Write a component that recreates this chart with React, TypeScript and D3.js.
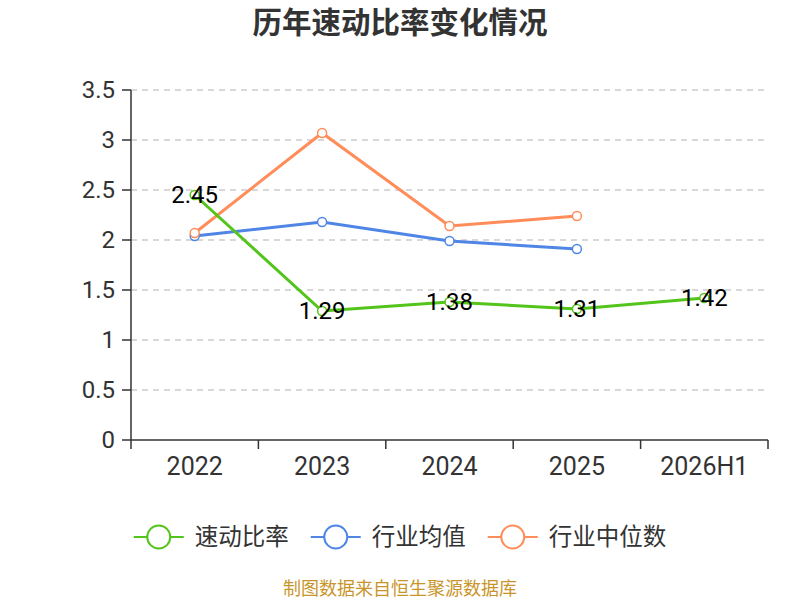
import React from 'react';
import * as d3 from 'd3';

const categories = ['2022', '2023', '2024', '2025', '2026H1'];
const quickRatio = [2.45, 1.29, 1.38, 1.31, 1.42];
const industryMean = [2.04, 2.18, 1.99, 1.91];
const industryMedian = [2.07, 3.07, 2.14, 2.24];
const yTicks = [0, 0.5, 1, 1.5, 2, 2.5, 3, 3.5];

const series = [
  { name: '速动比率', values: quickRatio, color: '#52c41a', labels: true },
  { name: '行业均值', values: industryMean, color: '#4f86e6', labels: false },
  { name: '行业中位数', values: industryMedian, color: '#ff8c59', labels: false },
];

const width = 800;
const height = 600;
const margin = { top: 90, right: 32, bottom: 160, left: 131 };
const font = 'Roboto, "Noto Sans CJK SC", sans-serif';
const cjk = '"Noto Sans CJK SC", sans-serif';

// legend layout: symbol, gap, text, item gap
const legendFont = 23.5;
const symbolW = 50;
const textGap = 11;
const itemGap = 22;

const App = () => {
  const x = d3
    .scaleBand<string>()
    .domain(categories)
    .range([margin.left, width - margin.right]);

  const y = d3
    .scaleLinear()
    .domain([0, 3.5])
    .range([height - margin.bottom, margin.top]);

  const cx = (i: number) => (x(categories[i]) || 0) + x.bandwidth() / 2;

  const line = d3
    .line<number>()
    .x((d, i) => cx(i))
    .y((d) => y(d));

  const bounds = categories.map((c) => x(c) || 0).concat([width - margin.right]);

  const itemWidths = series.map((s) => symbolW + textGap + s.name.length * legendFont);
  const total = d3.sum(itemWidths) + itemGap * (series.length - 1);
  let lx = (width - total) / 2;
  const legendX = itemWidths.map((w) => {
    const p = lx;
    lx += w + itemGap;
    return p;
  });

  return (
    <svg
      width={width}
      height={height}
      style={{ position: 'absolute', left: 0, top: 0, background: '#fff' }}
      fontFamily={font}
    >
      <text x={400} y={33} textAnchor="middle" fontSize={29.5} fontWeight="bold" fill="#333" fontFamily={cjk}>
        历年速动比率变化情况
      </text>

      {/* grid */}
      {yTicks.slice(1).map((t) => (
        <line
          key={t}
          x1={margin.left}
          x2={width - margin.right}
          y1={y(t)}
          y2={y(t)}
          stroke="#ccc"
          strokeWidth={1.5}
          strokeDasharray="6,5"
        />
      ))}

      {/* y axis */}
      <line x1={margin.left} x2={margin.left} y1={margin.top} y2={y(0)} stroke="#333" strokeWidth={1.5} />
      {yTicks.map((t) => (
        <g key={t}>
          <line x1={margin.left - 9} x2={margin.left} y1={y(t)} y2={y(t)} stroke="#333" strokeWidth={1.5} />
          <text x={margin.left - 16} y={y(t)} dy="0.35em" textAnchor="end" fontSize={24} fill="#333">
            {t}
          </text>
        </g>
      ))}

      {/* x axis */}
      <line x1={margin.left} x2={width - margin.right} y1={y(0)} y2={y(0)} stroke="#333" strokeWidth={1.5} />
      {bounds.map((b, i) => (
        <line key={i} x1={b} x2={b} y1={y(0)} y2={y(0) + 9} stroke="#333" strokeWidth={1.5} />
      ))}
      {categories.map((c, i) => (
        <text key={c} x={cx(i)} y={y(0) + 26.5} dy="0.35em" textAnchor="middle" fontSize={25} fill="#333">
          {c}
        </text>
      ))}

      {/* series */}
      {[series[1], series[2], series[0]].map((s) => (
        <g key={s.name}>
          <path d={line(s.values) || ''} fill="none" stroke={s.color} strokeWidth={3} />
          {s.values.map((v, i) => (
            <circle key={i} cx={cx(i)} cy={y(v)} r={4.5} fill="#fff" stroke={s.color} strokeWidth={1.5} />
          ))}
        </g>
      ))}
      {series
        .filter((s) => s.labels)
        .map((s) =>
          s.values.map((v, i) => (
            <text key={s.name + i} x={cx(i)} y={y(v)} dy="0.35em" textAnchor="middle" fontSize={24} fill="#000">
              {v.toFixed(2)}
            </text>
          )),
        )}

      {/* legend */}
      {series.map((s, i) => (
        <g key={s.name} transform={`translate(${legendX[i]},537)`}>
          <line x1={0} x2={symbolW} y1={0} y2={0} stroke={s.color} strokeWidth={2} />
          <circle cx={symbolW / 2} cy={0} r={11.5} fill="#fff" stroke={s.color} strokeWidth={2} />
          <text x={symbolW + textGap} y={0} dy="0.35em" fontSize={legendFont} fill="#333" fontFamily={cjk}>
            {s.name}
          </text>
        </g>
      ))}

      <text x={400} y={595} textAnchor="middle" fontSize={18} fill="#c8952b" fontFamily={cjk}>
        制图数据来自恒生聚源数据库
      </text>
    </svg>
  );
};

export default App;
